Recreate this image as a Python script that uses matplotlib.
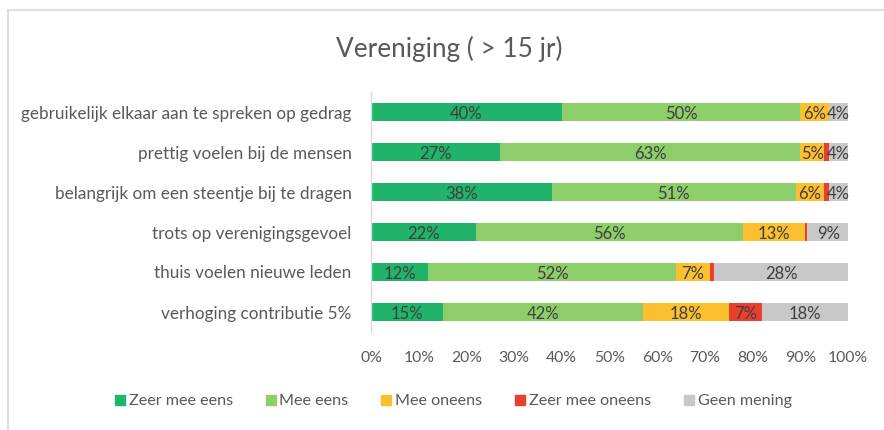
import matplotlib
matplotlib.use("Agg")
import matplotlib.pyplot as plt
from matplotlib.lines import Line2D
import numpy as np

plt.rcParams['font.family'] = ['Lato', 'DejaVu Sans']

title = "Vereniging ( > 15 jr)"
categories = [
    "gebruikelijk elkaar aan te spreken op gedrag",
    "prettig voelen bij de mensen",
    "belangrijk om een steentje bij te dragen",
    "trots op verenigingsgevoel",
    "thuis voelen nieuwe leden",
    "verhoging contributie 5%",
]
series_names = ["Zeer mee eens", "Mee eens", "Mee oneens", "Zeer mee oneens", "Geen mening"]
zeer_mee_eens = [40, 27, 38, 22, 12, 15]
mee_eens = [50, 63, 51, 56, 52, 42]
mee_oneens = [6, 5, 6, 13, 7, 18]
zeer_mee_oneens = [0, 1, 1, 0.4, 1, 7]
geen_mening = [4, 4, 4, 9, 28, 18]
xtick_labels = ["0%", "10%", "20%", "30%", "40%", "50%", "60%", "70%", "80%", "90%", "100%"]

colors = ["#20b46a", "#8dcd6a", "#fbbf30", "#e8402c", "#c8c8c8"]
text_col = "#595959"
label_col = "#3f3f3f"

fig = plt.figure(figsize=(8.84, 4.30), dpi=100)
W, H = 884, 430
ax = fig.add_axes([371 / W, 1 - 332 / H, (848 - 371) / W, (332 - 92) / H])

data = [zeer_mee_eens, mee_eens, mee_oneens, zeer_mee_oneens, geen_mening]
y = np.arange(len(categories))
left = np.zeros(len(categories))
for name, vals, c in zip(series_names, data, colors):
    vals = np.array(vals, dtype=float)
    ax.barh(y, vals, left=left, height=0.45, color=c, label=name)
    for yi, l, v in zip(y, left, vals):
        if v >= 3:
            ax.text(l + v / 2, yi + 0.06, f"{v:.0f}%", ha="center", va="center",
                    fontsize=12, color=label_col)
    left += vals

ax.set_xlim(0, 100)
ax.set_ylim(len(categories) - 0.5, -0.5)
ax.set_yticks(y)
ax.set_yticklabels(categories, fontsize=12.3, color=text_col)
ax.set_xticks(np.arange(0, 101, 10))
ax.set_xticklabels(xtick_labels, fontsize=11.3, color=text_col)
ax.tick_params(axis="both", length=0)
ax.tick_params(axis="y", pad=14)
ax.tick_params(axis="x", pad=14)
for s in ["top", "right", "bottom"]:
    ax.spines[s].set_visible(False)
ax.spines["left"].set_color("#d9d9d9")
ax.spines["left"].set_linewidth(1)

fig.text(449 / W, 1 - 49 / H, title, ha="center", va="center", fontsize=18.8, color=text_col)

handles = [Line2D([], [], marker="s", linestyle="none", markersize=7.5,
                  markerfacecolor=c, markeredgecolor=c) for c in colors]
fig.legend(handles, series_names, loc="center", bbox_to_anchor=(453 / W, 1 - 401 / H),
           ncol=5, frameon=False, fontsize=11.6, handlelength=0.7, handletextpad=0.2,
           columnspacing=2.0, labelcolor=text_col)

# outer frame (left and top)
fig.add_artist(Line2D([8 / W, 8 / W], [0, 1 - 10 / H], transform=fig.transFigure,
                      color="#d9d9d9", linewidth=1.2))
fig.add_artist(Line2D([8 / W, 1], [1 - 10 / H, 1 - 10 / H], transform=fig.transFigure,
                      color="#d9d9d9", linewidth=1.2))

fig.savefig("out.png", dpi=100)
